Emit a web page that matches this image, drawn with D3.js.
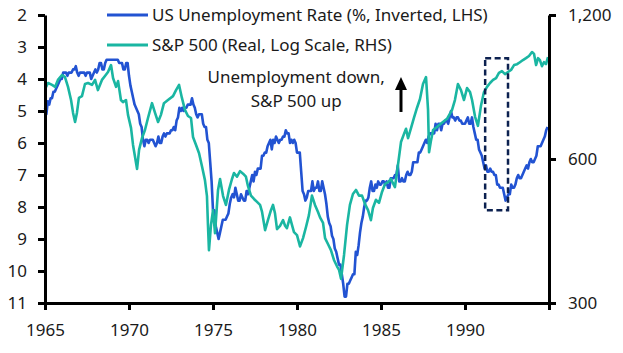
<!DOCTYPE html>
<html>
<head>
<meta charset="utf-8">
<script src="https://cdn.jsdelivr.net/npm/d3@7"></script>
<style>
  body { margin: 0; background: #fff; }
  svg text { font-family: "Noto Sans", sans-serif; fill: #1a1a1a; }
</style>
</head>
<body>
<div id="chart"></div>
<script>
// US unemployment rate, monthly, Jan 1965 - Dec 1994 (%)
const unempStart = 1965;
const unempRate = [
  4.9, 5.1, 4.7, 4.8, 4.6, 4.6, 4.4, 4.4, 4.3, 4.2, 4.1, 4.0,
  4.0, 3.8, 3.8, 3.8, 3.9, 3.8, 3.8, 3.8, 3.7, 3.7, 3.6, 3.8,
  3.9, 3.8, 3.8, 3.8, 3.8, 3.9, 3.8, 3.8, 3.8, 4.0, 3.9, 3.8,
  3.7, 3.8, 3.7, 3.5, 3.5, 3.7, 3.7, 3.5, 3.4, 3.4, 3.4, 3.4,
  3.4, 3.4, 3.4, 3.4, 3.4, 3.5, 3.5, 3.5, 3.7, 3.7, 3.5, 3.5,
  3.9, 4.2, 4.4, 4.6, 4.8, 4.9, 5.0, 5.1, 5.4, 5.5, 5.9, 6.1,
  5.9, 5.9, 6.0, 5.9, 5.9, 5.9, 6.0, 6.1, 6.0, 5.8, 6.0, 6.0,
  5.8, 5.7, 5.8, 5.7, 5.7, 5.7, 5.6, 5.6, 5.5, 5.6, 5.3, 5.2,
  4.9, 5.0, 4.9, 5.0, 4.9, 4.9, 4.8, 4.8, 4.8, 4.6, 4.8, 4.9,
  5.1, 5.2, 5.1, 5.1, 5.1, 5.4, 5.5, 5.5, 5.9, 6.0, 6.6, 7.2,
  8.1, 8.1, 8.6, 8.8, 9.0, 8.8, 8.6, 8.4, 8.4, 8.4, 8.3, 8.2,
  7.9, 7.7, 7.6, 7.7, 7.4, 7.6, 7.8, 7.8, 7.6, 7.7, 7.8, 7.8,
  7.5, 7.6, 7.4, 7.2, 7.0, 7.2, 6.9, 7.0, 6.8, 6.8, 6.8, 6.4,
  6.4, 6.3, 6.3, 6.1, 6.0, 5.9, 6.2, 5.9, 6.0, 5.8, 5.9, 6.0,
  5.9, 5.9, 5.8, 5.8, 5.6, 5.7, 5.7, 6.0, 5.9, 6.0, 5.9, 6.0,
  6.3, 6.3, 6.3, 6.9, 7.5, 7.6, 7.8, 7.7, 7.5, 7.5, 7.5, 7.2,
  7.5, 7.4, 7.4, 7.2, 7.5, 7.5, 7.2, 7.4, 7.6, 7.9, 8.3, 8.5,
  8.6, 8.9, 9.0, 9.3, 9.4, 9.6, 9.8, 9.8, 10.1, 10.4, 10.8, 10.8,
  10.4, 10.4, 10.3, 10.2, 10.1, 10.1, 9.4, 9.5, 9.2, 8.8, 8.5, 8.3,
  8.0, 7.8, 7.8, 7.7, 7.4, 7.2, 7.5, 7.5, 7.3, 7.4, 7.2, 7.3,
  7.3, 7.2, 7.2, 7.3, 7.2, 7.4, 7.4, 7.1, 7.1, 7.1, 7.0, 7.0,
  6.7, 7.2, 7.2, 7.1, 7.2, 7.2, 7.0, 6.9, 7.0, 7.0, 6.9, 6.6,
  6.6, 6.6, 6.6, 6.3, 6.3, 6.2, 6.1, 6.0, 5.9, 6.0, 5.8, 5.7,
  5.7, 5.7, 5.7, 5.4, 5.6, 5.4, 5.4, 5.6, 5.4, 5.4, 5.3, 5.3,
  5.4, 5.2, 5.0, 5.2, 5.2, 5.3, 5.2, 5.2, 5.3, 5.3, 5.4, 5.4,
  5.4, 5.3, 5.2, 5.4, 5.4, 5.2, 5.5, 5.7, 5.9, 5.9, 6.2, 6.3,
  6.4, 6.6, 6.8, 6.7, 6.9, 6.9, 6.8, 6.9, 6.9, 7.0, 7.0, 7.3,
  7.3, 7.4, 7.4, 7.4, 7.6, 7.8, 7.7, 7.6, 7.6, 7.3, 7.4, 7.4,
  7.3, 7.1, 7.0, 7.1, 7.1, 7.0, 6.9, 6.8, 6.7, 6.8, 6.6, 6.5,
  6.6, 6.6, 6.5, 6.4, 6.1, 6.1, 6.1, 6.0, 5.9, 5.8, 5.6, 5.5
];

// S&P 500, real (decimal year, index level)
const spxYears = [
  1965.00, 1965.18, 1965.42, 1965.60, 1965.77, 1966.01, 1966.19, 1966.37, 1966.55, 1966.67,
  1966.79, 1966.90, 1967.02, 1967.20, 1967.38, 1967.56, 1967.80, 1967.98, 1968.15, 1968.39,
  1968.57, 1968.75, 1968.93, 1969.05, 1969.23, 1969.35, 1969.52, 1969.64, 1969.82, 1969.94,
  1970.12, 1970.24, 1970.48, 1970.60, 1970.77, 1970.95, 1971.13, 1971.37, 1971.55, 1971.73,
  1971.90, 1972.08, 1972.32, 1972.62, 1972.80, 1972.98, 1973.15, 1973.33, 1973.51, 1973.69,
  1973.81, 1973.99, 1974.17, 1974.35, 1974.52, 1974.64, 1974.70, 1974.76, 1974.88, 1975.00,
  1975.12, 1975.30, 1975.42, 1975.60, 1975.77, 1975.95, 1976.13, 1976.25, 1976.43, 1976.61,
  1976.79, 1976.96, 1977.08, 1977.26, 1977.44, 1977.62, 1977.80, 1977.92, 1978.10, 1978.27,
  1978.45, 1978.57, 1978.69, 1978.81, 1978.99, 1979.17, 1979.29, 1979.40, 1979.58, 1979.70,
  1979.82, 1980.00, 1980.18, 1980.36, 1980.54, 1980.71, 1980.89, 1981.07, 1981.25, 1981.37,
  1981.55, 1981.67, 1981.85, 1982.02, 1982.20, 1982.38, 1982.50, 1982.62, 1982.80, 1982.98,
  1983.15, 1983.33, 1983.51, 1983.69, 1983.87, 1984.05, 1984.23, 1984.40, 1984.52, 1984.70,
  1984.88, 1985.06, 1985.24, 1985.42, 1985.60, 1985.71, 1985.83, 1986.01, 1986.19, 1986.37,
  1986.49, 1986.61, 1986.79, 1986.96, 1987.14, 1987.32, 1987.50, 1987.68, 1987.80, 1987.86,
  1987.98, 1988.10, 1988.33, 1988.63, 1988.93, 1989.23, 1989.40, 1989.58, 1989.76, 1989.94,
  1990.12, 1990.30, 1990.42, 1990.60, 1990.77, 1990.95, 1991.13, 1991.31, 1991.49, 1991.67,
  1991.85, 1992.02, 1992.20, 1992.38, 1992.56, 1992.74, 1992.92, 1993.10, 1993.27, 1993.45,
  1993.63, 1993.81, 1993.99, 1994.11, 1994.23, 1994.35, 1994.46, 1994.58, 1994.70, 1994.82,
  1994.94
];
const spxReal = [
  840, 865, 857, 849, 878, 899, 890, 849, 797, 749,
  717, 749, 805, 812, 861, 865, 857, 878, 836, 878,
  895, 912, 943, 886, 849, 873, 797, 789, 797, 742,
  697, 642, 572, 627, 663, 690, 731, 785, 749, 717,
  742, 785, 797, 812, 836, 857, 805, 760, 738, 731,
  667, 642, 617, 578, 542, 502, 437, 387, 437, 469,
  420, 517, 545, 502, 481, 517, 545, 561, 551, 566,
  559, 551, 527, 503, 495, 488, 481, 465, 426, 447,
  469, 481, 462, 428, 435, 447, 435, 430, 453, 437,
  422, 416, 394, 410, 433, 458, 503, 481, 465, 453,
  441, 410, 398, 387, 369, 358, 352, 337, 378, 437,
  481, 507, 517, 503, 503, 483, 469, 447, 474, 493,
  486, 512, 532, 537, 545, 534, 524, 583, 651, 677,
  694, 663, 697, 731, 767, 801, 861, 890, 760, 620,
  657, 690, 700, 714, 728, 760, 797, 861, 836, 797,
  844, 828, 797, 735, 704, 775, 828, 849, 865, 878,
  886, 908, 916, 903, 912, 921, 943, 947, 956, 966,
  975, 985, 1004, 995, 943, 975, 966, 938, 956, 947,
  980
];

// axis ticks
const xTicks = [1965, 1970, 1975, 1980, 1985, 1990, 1995];
const xTickLabels = ["1965", "1970", "1975", "1980", "1985", "1990", ""];
const leftTicks = [2, 3, 4, 5, 6, 7, 8, 9, 10, 11];
const rightTicks = [300, 600, 1200];

// highlighted window and annotation
const boxYears = [1991.2, 1992.56];
const boxRates = [3.35, 8.1];
const noteLines = ["Unemployment down,", "S&P 500 up"];
const legendLabels = ["US Unemployment Rate (%, Inverted, LHS)", "S&P 500 (Real, Log Scale, RHS)"];

const blue = "#2253d2";
const teal = "#1ab6a2";

const W = 623, H = 353;
const m = { top: 15, right: 74, bottom: 50, left: 45 };

const svg = d3.select("#chart").append("svg")
  .attr("width", W).attr("height", H);

const x = d3.scaleLinear().domain([1965, 1995]).range([m.left, W - m.right]);
const yL = d3.scaleLinear().domain([2, 11]).range([m.top, H - m.bottom]);
const yR = d3.scaleLog().domain([300, 1200]).range([H - m.bottom, m.top]);

const unemp = unempRate.map((v, i) => ({ t: unempStart + i / 12, v }));
const spx = spxYears.map((t, i) => ({ t, v: spxReal[i] }));

// lines
svg.append("path").datum(unemp)
  .attr("fill", "none").attr("stroke", blue).attr("stroke-width", 2.6)
  .attr("stroke-linejoin", "round")
  .attr("d", d3.line().x(d => x(d.t)).y(d => yL(d.v)));

svg.append("path").datum(spx)
  .attr("fill", "none").attr("stroke", teal).attr("stroke-width", 2.6)
  .attr("stroke-linejoin", "round")
  .attr("d", d3.line().x(d => x(d.t)).y(d => yR(d.v)));

// dashed box
svg.append("rect")
  .attr("x", x(boxYears[0])).attr("y", yL(boxRates[0]))
  .attr("width", x(boxYears[1]) - x(boxYears[0]))
  .attr("height", yL(boxRates[1]) - yL(boxRates[0]))
  .attr("fill", "none").attr("stroke", "#0c2150")
  .attr("stroke-width", 2.5).attr("stroke-dasharray", "6,3.5");

// axes
function styleAxis(g) {
  g.selectAll("path.domain").attr("stroke", "#000").attr("stroke-width", 3);
  g.selectAll(".tick line").attr("stroke", "#000").attr("stroke-width", 3);
  g.selectAll("text").attr("font-size", 17).attr("fill", "#1a1a1a")
    .style("font-family", "'Noto Sans', sans-serif");
}

svg.append("g")
  .attr("transform", `translate(0,${H - m.bottom})`)
  .call(d3.axisBottom(x).tickValues(xTicks).tickSize(7).tickSizeOuter(0).tickPadding(14)
    .tickFormat((d, i) => xTickLabels[i]))
  .call(styleAxis);

svg.append("g")
  .attr("transform", `translate(${m.left},0)`)
  .call(d3.axisLeft(yL).tickValues(leftTicks).tickSize(7).tickSizeOuter(0).tickPadding(11)
    .tickFormat(d3.format("d")))
  .call(styleAxis);

svg.append("g")
  .attr("transform", `translate(${W - m.right},0)`)
  .call(d3.axisRight(yR).tickValues(rightTicks).tickSize(7).tickSizeOuter(0).tickPadding(12)
    .tickFormat(d3.format(",")))
  .call(styleAxis);

// legend
const leg = svg.append("g");
[blue, teal].forEach((c, i) => {
  const ly = 15 + i * 30;
  leg.append("line").attr("x1", 107).attr("x2", 148).attr("y1", ly).attr("y2", ly)
    .attr("stroke", c).attr("stroke-width", 3);
  leg.append("text").attr("x", 152).attr("y", ly + 6).attr("font-size", 17)
    .text(legendLabels[i]);
});

// annotation
const noteX = x(1979.95);
svg.append("text").attr("x", noteX).attr("y", yL(4.12))
  .attr("text-anchor", "middle").attr("font-size", 17).text(noteLines[0]);
svg.append("text").attr("x", noteX).attr("y", yL(4.87))
  .attr("text-anchor", "middle").attr("font-size", 17).text(noteLines[1]);

const ax = x(1986.19), aTop = yL(3.94), aBot = yL(5.03);
svg.append("line").attr("x1", ax).attr("x2", ax).attr("y1", aTop + 10).attr("y2", aBot)
  .attr("stroke", "#000").attr("stroke-width", 3);
svg.append("path")
  .attr("d", `M${ax},${aTop} L${ax - 6},${aTop + 13} L${ax + 6},${aTop + 13} Z`)
  .attr("fill", "#000");
</script>
</body>
</html>
